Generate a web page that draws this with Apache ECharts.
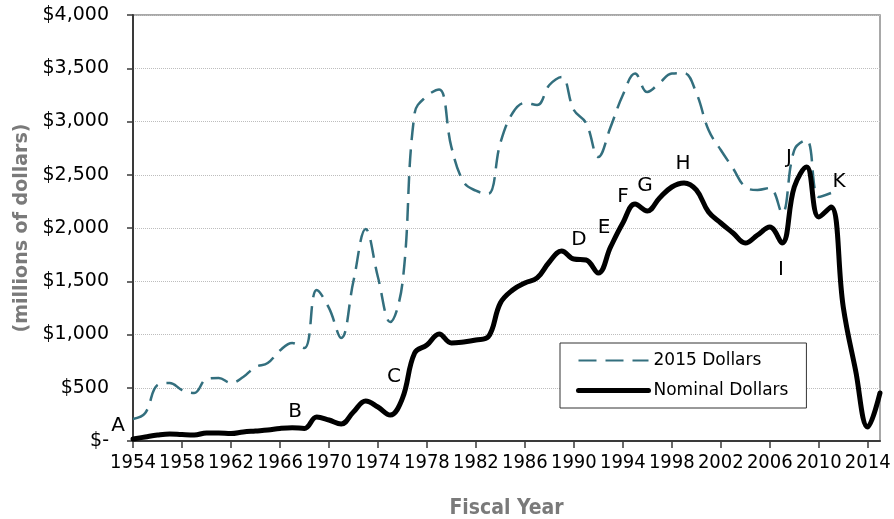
<!DOCTYPE html>
<html>
<head>
<meta charset="UTF-8">
	<title>Fiscal Year</title>
	<script src="https://cdn.jsdelivr.net/npm/echarts@6/dist/echarts.min.js"></script>
	<style>
		html,body{margin:0;padding:0;background:#fff;}
		#linecharts{width:894px;height:519px;}
	</style>
</head>
<body>
<div id="linecharts"></div>
<script type="text/javascript">
	// fiscal years 1954 - 2015
	var years=[];
	for(var y=1954;y<=2015;y++){ years.push(String(y)); }
	// 2015 dollars, stops at 2011
	var constData=[207,263,526,545,479,450,582,592,545,601,695,732,850,920,873,1418,1250,967,1500,1990,
		1540,1117,1480,3080,3240,3300,2760,2432,2350,2320,2800,3080,3174,3155,3343,3418,3108,2986,2667,2948,
		3249,3450,3277,3362,3450,3455,3268,2920,2732,2560,2385,2357,2376,2141,2732,2826,2291,2329,null,null,
		null,null];
	// nominal dollars
	var nominalData=[19,38,56,66,60,56,75,75,70,85,94,103,118,125,118,225,197,160,272,376,
		319,244,400,826,901,1005,920,930,948,977,1296,1418,1484,1531,1681,1784,1709,1700,1577,1822,
		2047,2225,2160,2282,2385,2423,2357,2150,2047,1953,1859,1934,2009,1859,2385,2573,2103,2197,1258,667,
		131,451];
	var yTicks=[0,500,1000,1500,2000,2500,3000,3500,4000];
	// letter callouts
	var callouts=[['A',118,426],['B',295,412],['C',394,377],['D',579,240],['E',604,228],['F',623,197],
		['G',645,186],['H',683,164],['I',781,270],['J',789,158],['K',839,182]];

	var lineChart = echarts.init(document.getElementById('linecharts'));
	var texts=[];
	for(var i=0;i<callouts.length;i++){
		texts.push({
			type:'text', x:callouts[i][1], y:callouts[i][2], z:100,
			style:{text:callouts[i][0], fill:'#000', font:'20px "DejaVu Sans"', align:'center', verticalAlign:'middle'}
		});
	}
	var option = {
		animation:false,
		textStyle:{fontFamily:'"DejaVu Sans"'},
		grid:{left:133,right:14,top:15,bottom:78,outerBoundsMode:'none',show:true,borderColor:'#8c8c8c',borderWidth:1.5},
		legend:{
			left:560, top:343, orient:'vertical',
			data:[{name:'2015 Dollars'},{name:'Nominal Dollars',lineStyle:{width:5}}],
			selectedMode:false,
			itemWidth:70, itemHeight:14, itemGap:13,
			padding:[9,18,9,16],
			itemStyle:{opacity:0},
			borderColor:'#333', borderWidth:1, backgroundColor:'#fff',
			textStyle:{fontSize:17,color:'#000',fontFamily:'"DejaVu Sans"'}
		},
		xAxis:{
			type:'category', data:years, boundaryGap:false,
			name:'Fiscal Year', nameLocation:'middle', nameGap:57,
			nameTextStyle:{fontSize:21,fontWeight:'bold',color:'#7a7a7a',fontFamily:'"DejaVu Sans Condensed"'},
			axisLine:{lineStyle:{color:'#3a3a3a',width:2}},
			axisTick:{interval:3,length:7,lineStyle:{color:'#3a3a3a',width:1.5}},
			axisLabel:{interval:3,margin:12,fontSize:20,color:'#000',fontFamily:'"DejaVu Sans Condensed"'},
			splitLine:{show:false}
		},
		yAxis:{
			type:'value', min:0, max:4000, interval:500,
			name:'(millions of dollars)', nameLocation:'middle', nameGap:100, nameRotate:90,
			nameTextStyle:{fontSize:19,fontWeight:'bold',color:'#7a7a7a'},
			axisLine:{show:true,lineStyle:{color:'#3a3a3a',width:2}},
			axisTick:{show:true,length:6,lineStyle:{color:'#3a3a3a',width:1.5}},
			axisLabel:{margin:24,fontSize:19,color:'#000',formatter:function(v){
				if(v==0){ return '$-'; }
				return '$'+v.toLocaleString('en-US');
			}},
			splitLine:{lineStyle:{color:'#bdbdbd',type:'dotted',width:1}}
		},
		series:[{
			name:'2015 Dollars', type:'line', data:constData,
			smooth:0.4, symbol:'none', connectNulls:false,
			lineStyle:{color:'#336f7e',width:2.5,type:[18,9]},
			itemStyle:{color:'#336f7e'}, z:2
		},{
			name:'Nominal Dollars', type:'line', data:nominalData,
			smooth:0.4, symbol:'none',
			lineStyle:{color:'#000',width:5,cap:'round'},
			itemStyle:{color:'#000'}, z:3
		}],
		graphic:texts
	};
	lineChart.setOption(option);
</script>
</body>
</html>
